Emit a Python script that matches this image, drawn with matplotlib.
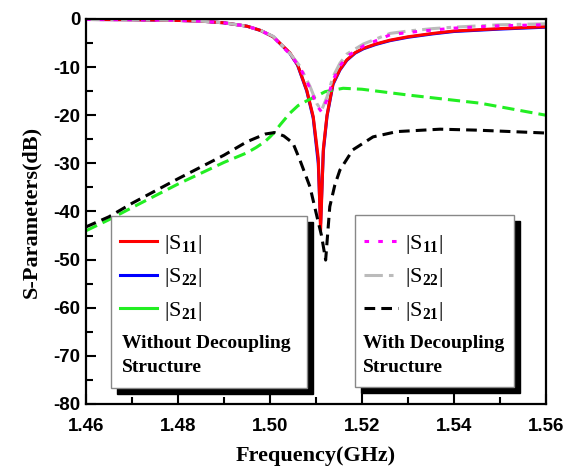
import matplotlib
matplotlib.use('Agg')
import matplotlib.pyplot as plt
from matplotlib.lines import Line2D
from matplotlib.patches import Rectangle
from matplotlib.ticker import MultipleLocator

plt.rcParams['axes.unicode_minus'] = False
plt.rcParams['mathtext.fontset'] = 'custom'
plt.rcParams['mathtext.rm'] = 'Liberation Serif'
plt.rcParams['mathtext.bf'] = 'Liberation Serif:bold'

# without decoupling structure
f_s11 = [1.46, 1.47, 1.48, 1.485, 1.49, 1.495, 1.498, 1.5007, 1.5043, 1.506, 1.508,
         1.5094, 1.5105, 1.511, 1.5116, 1.5124, 1.5137, 1.5152, 1.5167, 1.5185,
         1.5203, 1.523, 1.5261, 1.53, 1.5354, 1.54, 1.55, 1.56]
s11 = [-0.1, -0.15, -0.3, -0.45, -0.8, -1.5, -2.4, -3.7, -7.0, -9.5, -14.8,
       -20.3, -29.0, -44.0, -27.0, -20.0, -13.4, -10.5, -8.5, -7.0,
       -6.1, -5.2, -4.4, -3.7, -3.0, -2.5, -2.0, -1.6]
s22 = [-0.1, -0.15, -0.3, -0.45, -0.8, -1.5, -2.4, -3.7, -7.1, -9.6, -15.0,
       -20.6, -30.0, -42.5, -27.5, -20.2, -13.6, -10.6, -8.6, -7.1,
       -6.2, -5.3, -4.5, -3.8, -3.1, -2.6, -2.1, -1.7]
f_s21 = [1.46, 1.465, 1.47, 1.48, 1.49, 1.495, 1.497, 1.499, 1.5, 1.501, 1.5022, 1.5043,
         1.5061, 1.508, 1.51, 1.512, 1.5159, 1.52, 1.53, 1.5457, 1.56]
s21 = [-44.0, -41.7, -39.2, -34.3, -29.8, -27.8, -26.7, -25.4, -24.5, -23.5, -22.0, -19.6,
       -18.0, -17.0, -16.1, -15.1, -14.4, -14.6, -15.8, -17.5, -20.0]

# with decoupling structure
f_d11 = [1.46, 1.47, 1.48, 1.485, 1.49, 1.495, 1.498, 1.5007, 1.5043, 1.5065, 1.5087,
         1.5102, 1.5112, 1.5124, 1.5137, 1.5152, 1.5167, 1.5203, 1.5261, 1.53,
         1.5354, 1.54, 1.55, 1.56]
d11 = [-0.1, -0.15, -0.3, -0.45, -0.8, -1.5, -2.4, -3.7, -7.3, -10.0, -14.4,
       -18.0, -19.3, -16.8, -12.7, -9.8, -7.8, -5.6, -3.3, -2.8,
       -2.3, -1.9, -1.4, -1.2]
d22 = [-0.1, -0.15, -0.3, -0.45, -0.8, -1.5, -2.4, -3.6, -7.1, -9.8, -14.0,
       -17.6, -19.0, -16.2, -12.0, -9.2, -7.3, -5.2, -3.0, -2.5,
       -2.0, -1.7, -1.2, -1.0]
f_d21 = [1.46, 1.465, 1.47, 1.48, 1.49, 1.495, 1.499, 1.501, 1.503, 1.505, 1.5065,
         1.5087, 1.5102, 1.5112, 1.5121, 1.513, 1.5141, 1.5152, 1.518, 1.5224,
         1.5276, 1.537, 1.545, 1.56]
d21 = [-43.2, -41.1, -38.3, -33.2, -28.3, -25.5, -23.9, -23.6, -24.3, -25.8, -29.3,
       -34.9, -41.0, -45.0, -50.1, -39.0, -34.5, -31.4, -27.2, -24.5,
       -23.4, -22.9, -23.1, -23.7]

fig = plt.figure(figsize=(5.87, 4.71), dpi=100)
ax = fig.add_axes([0.1465, 0.1423, 0.7836, 0.8174])

ax.plot(f_s11, s22, color='blue', lw=2.2)
ax.plot(f_s11, s11, color='red', lw=2.2)
ax.plot(f_s21, s21, color='#22ee22', lw=2.2, dashes=(4, 2))
ax.plot(f_d11, d22, color='#bbbbbb', lw=2.2, dashes=(6, 2, 1.5, 2))
ax.plot(f_d11, d11, color='magenta', lw=2.2, dashes=(1.5, 3))
ax.plot(f_d21, d21, color='black', lw=2.2, dashes=(3.5, 2))

ax.set_xlim(1.46, 1.56)
ax.set_ylim(-80, 0)
ax.xaxis.set_major_locator(MultipleLocator(0.02))
ax.xaxis.set_minor_locator(MultipleLocator(0.01))
ax.yaxis.set_major_locator(MultipleLocator(10))
ax.yaxis.set_minor_locator(MultipleLocator(5))
ax.xaxis.set_major_formatter(plt.FormatStrFormatter('%.2f'))
ax.tick_params(which='both', direction='in', width=1.5, labelsize=13.5)
ax.tick_params(which='major', length=7)
ax.tick_params(which='minor', length=5)
ax.tick_params(axis='x', pad=10)
ax.tick_params(axis='y', pad=4)
for lab in ax.get_xticklabels() + ax.get_yticklabels():
    lab.set_fontfamily('Liberation Sans')
    lab.set_fontweight('bold')
for sp in ax.spines.values():
    sp.set_linewidth(1.6)

ax.set_xlabel('Frequency(GHz)', fontsize=16, fontweight='bold', family='Liberation Serif', labelpad=8)
ax.set_ylabel('S-Parameters(dB)', fontsize=16, fontweight='bold', family='Liberation Serif', labelpad=9)

# legend boxes with black shadow
def box(x0, y0, x1, y1):
    ax.add_patch(Rectangle((x0 + 0.013, y0 - 0.0156), x1 - x0, y1 - y0, transform=ax.transAxes,
                           facecolor='black', edgecolor='black', zorder=5))
    ax.add_patch(Rectangle((x0, y0), x1 - x0, y1 - y0, transform=ax.transAxes,
                           facecolor='white', edgecolor='#888888', lw=1, zorder=6))

box(0.0543, 0.0416, 0.4804, 0.4883)
box(0.5848, 0.0442, 0.9304, 0.4909)

h1 = [Line2D([], [], color='red', lw=2.2),
      Line2D([], [], color='blue', lw=2.2),
      Line2D([], [], color='#22ee22', lw=2.2)]
h2 = [Line2D([], [], color='magenta', lw=2.2, dashes=(1.5, 3)),
      Line2D([], [], color='#bbbbbb', lw=2.2, dashes=(6, 2, 1.5, 2)),
      Line2D([], [], color='black', lw=2.2, dashes=(3.5, 2))]
labels = [r'$|\mathrm{S}_{\mathbf{11}}|$', r'$|\mathrm{S}_{\mathbf{22}}|$', r'$|\mathrm{S}_{\mathbf{21}}|$']

leg1 = ax.legend(h1, labels, loc='upper left', bbox_to_anchor=(0.055, 0.468), frameon=False,
                 fontsize=16, handlelength=1.65, handletextpad=0.3, labelspacing=0.48,
                 borderaxespad=0)
leg1.set_zorder(7)
ax.add_artist(leg1)
leg2 = ax.legend(h2, labels, loc='upper left', bbox_to_anchor=(0.585, 0.468), frameon=False,
                 fontsize=16, handlelength=1.55, handletextpad=0.3, labelspacing=0.48,
                 borderaxespad=0)
leg2.set_zorder(7)

ax.text(0.0783, 0.178, 'Without Decoupling\nStructure', transform=ax.transAxes, fontsize=14,
        fontweight='bold', family='Liberation Serif', va='top', linespacing=1.5, zorder=8)
ax.text(0.602, 0.178, 'With Decoupling\nStructure', transform=ax.transAxes, fontsize=14,
        fontweight='bold', family='Liberation Serif', va='top', linespacing=1.5, zorder=8)

fig.savefig('out.png', dpi=100)
